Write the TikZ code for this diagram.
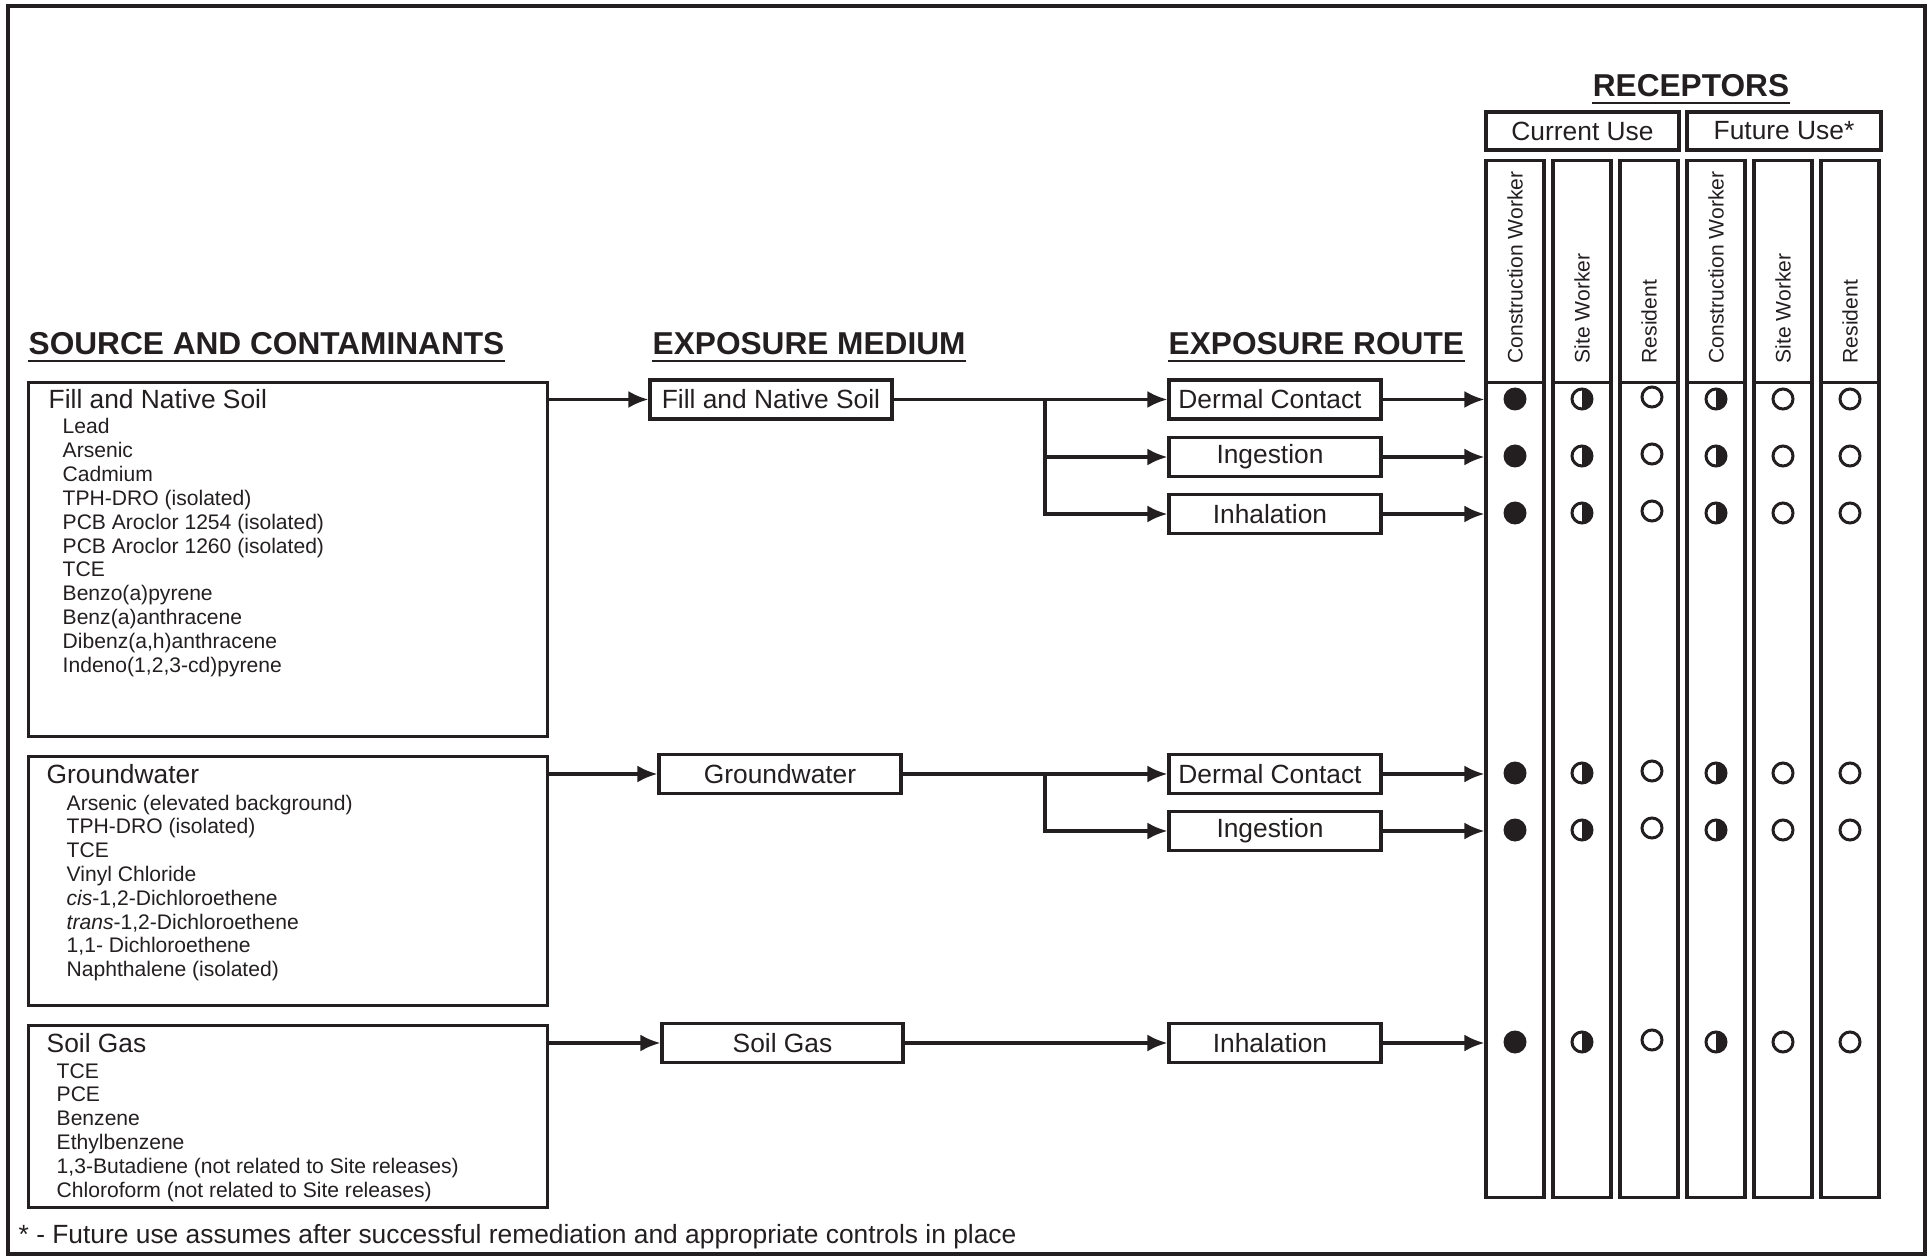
\documentclass[tikz,border=0pt]{standalone}
\usepackage{fontspec}
\setmainfont{Liberation Sans}
\usetikzlibrary{
arrows.meta,
positioning,
calc
}
\definecolor{InkBlack}{HTML}{231F20}

\begin{document}
\begin{tikzpicture}[
    x=1cm,
    y=1cm,
    >=Latex,
    box/.style={draw=InkBlack, line width=0.9pt, inner sep=0pt, minimum height=0.39cm},
    srcbox/.style={draw=InkBlack, line width=0.9pt, inner sep=0pt, anchor=north west},
    colbox/.style={draw=InkBlack, line width=0.9pt, inner sep=0pt, minimum width=0.58cm, anchor=north},
    headtxt/.style={font=\fontsize{9}{11}\selectfont\bfseries, text=InkBlack, inner sep=0pt, anchor=base west},
    titletxt/.style={font=\fontsize{7.5}{9}\selectfont, text=InkBlack, inner sep=0pt, anchor=base west},
    itemtxt/.style={font=\fontsize{6}{7}\selectfont, text=InkBlack, inner sep=0pt, anchor=base west},
    boxtxt/.style={box, font=\fontsize{7.5}{9}\selectfont, text=InkBlack},
    routetxt/.style={boxtxt, minimum width=2.12cm, execute at end node={\hspace{0.1cm}}},
    flow/.style={-{Latex[length=2mm,width=1.7mm]}, draw=InkBlack, line width=0.9pt},
    uline/.style={draw=InkBlack, line width=0.85pt},
    opendot/.style={draw=InkBlack, line width=0.85pt, fill=white}
]

\useasboundingbox (0,0) rectangle (19.27,-12.56);

% =====================================================
% OUTER FRAME
% =====================================================
\draw[InkBlack, line width=1.3pt] (0.08,-0.06) rectangle (19.25,-12.54);

% =====================================================
% HEADINGS
% =====================================================
\node[headtxt] (srchead) at (0.28,-3.55) {SOURCE AND CONTAMINANTS};
\node[headtxt] (medhead) at (6.52,-3.55) {EXPOSURE MEDIUM};
\node[headtxt] (routehead) at (11.68,-3.55) {EXPOSURE ROUTE};
\node[headtxt, anchor=base] (rechead) at (16.91,-0.97) {RECEPTORS};

\foreach \h in {srchead,medhead,routehead,rechead}
    \draw[uline] ([yshift=-0.06cm]\h.base west) -- ([yshift=-0.06cm]\h.base east);

% =====================================================
% SOURCE BOXES
% =====================================================
\node[srcbox, minimum width=5.19cm, minimum height=3.54cm] (srcsoil) at (0.27,-3.81) {};
\node[titletxt] (srcsoiltitle) at (0.48,-4.09) {Fill and Native Soil};
\foreach \lab [count=\i from 0] in {
Lead,
Arsenic,
Cadmium,
TPH-DRO (isolated),
PCB Aroclor 1254 (isolated),
PCB Aroclor 1260 (isolated),
TCE,
Benzo(a)pyrene,
Benz(a)anthracene,
{Dibenz(a,h)anthracene},
{Indeno(1,2,3-cd)pyrene}
}{
    \node[itemtxt] (soilitem\i) at (0.62,{-4.34-0.238*\i}) {\lab};
}

\node[srcbox, minimum width=5.19cm, minimum height=2.49cm] (srcgw) at (0.27,-7.55) {};
\node[titletxt] (srcgwtitle) at (0.46,-7.83) {Groundwater};
\foreach \lab [count=\i from 0] in {
Arsenic (elevated background),
TPH-DRO (isolated),
TCE,
Vinyl Chloride,
{\textit{cis}-1,2-Dichloroethene},
{\textit{trans}-1,2-Dichloroethene},
{1,1- Dichloroethene},
Naphthalene (isolated)
}{
    \node[itemtxt] (gwitem\i) at (0.66,{-8.10-0.238*\i}) {\lab};
}

\node[srcbox, minimum width=5.19cm, minimum height=1.82cm] (srcgas) at (0.27,-10.24) {};
\node[titletxt] (srcgastitle) at (0.46,-10.52) {Soil Gas};
\foreach \lab [count=\i from 0] in {
TCE,
PCE,
Benzene,
Ethylbenzene,
{1,3-Butadiene (not related to Site releases)},
Chloroform (not related to Site releases)
}{
    \node[itemtxt] (gasitem\i) at (0.56,{-10.78-0.238*\i}) {\lab};
}

% =====================================================
% EXPOSURE MEDIUM
% =====================================================
\node[boxtxt, minimum width=2.42cm] (medsoil) at (7.71,-3.995) {Fill and Native Soil};
\node[boxtxt, minimum width=2.42cm] (medgw) at (7.80,-7.74) {Groundwater};
\node[boxtxt, minimum width=2.41cm] (medgas) at (7.825,-10.43) {Soil Gas};

% =====================================================
% EXPOSURE ROUTE
% =====================================================
\node[routetxt] (soilderm) at (12.75,-3.995) {Dermal Contact};
\node[routetxt] (soilingest) at (12.75,-4.57) {Ingestion};
\node[routetxt] (soilinhal) at (12.75,-5.14) {Inhalation};
\node[routetxt] (gwderm) at (12.75,-7.74) {Dermal Contact};
\node[routetxt] (gwingest) at (12.75,-8.31) {Ingestion};
\node[routetxt] (gasinhal) at (12.75,-10.43) {Inhalation};

% =====================================================
% RECEPTORS
% =====================================================
\node[boxtxt, minimum width=1.93cm, minimum height=0.38cm] (curuse) at (15.825,-1.31) {Current Use};
\node[boxtxt, minimum width=1.94cm, minimum height=0.38cm] (futuse) at (17.84,-1.31) {Future Use*};

\foreach \x [count=\i] in {15.15,15.82,16.49,17.16,17.83,18.50}{
    % header cell
    \node[colbox, minimum height=2.22cm] (head\i) at (\x,-1.59) {};
    % body cell
    \node[colbox, minimum height=8.15cm] (col\i) at (\x,-3.81) {};
}

\foreach \lab [count=\i] in {Construction Worker, Site Worker, Resident, Construction Worker, Site Worker, Resident}
    \node[itemtxt, rotate=90, anchor=west] (reclab\i) at ([yshift=0.17cm]col\i.north) {\lab};

% =====================================================
% CONNECTORS
% =====================================================
\draw[flow] (medsoil -| srcsoil.east) -- (medsoil.west);
\draw[flow] (medgw -| srcgw.east) -- (medgw.west);
\draw[flow] (medgas -| srcgas.east) -- (medgas.west);

\coordinate (soilsplit) at (10.45,-3.995);
\coordinate (gwsplit) at (10.45,-7.74);

\draw[flow] (medsoil.east) -- (soilderm.west);
\draw[flow] (soilsplit) |- (soilingest.west);
\draw[flow] (soilsplit) |- (soilinhal.west);

\draw[flow] (medgw.east) -- (gwderm.west);
\draw[flow] (gwsplit) |- (gwingest.west);

\draw[flow] (medgas.east) -- (gasinhal.west);

\foreach \r in {soilderm,soilingest,soilinhal,gwderm,gwingest,gasinhal}
    \draw[flow] (\r.east) -- (\r -| col1.west);

% =====================================================
% EXPOSURE SYMBOLS
% =====================================================
\foreach \y in {-3.99,-4.56,-5.13,-7.73,-8.30,-10.42}{
    % complete pathway
    \fill[InkBlack] (15.15,\y) circle (0.115);

    % potentially complete
    \foreach \x in {15.82,17.16}{
        \draw[opendot] (\x,\y) circle (0.1);
        \fill[InkBlack] (\x,\y) ++(0,0.1) arc[start angle=90, end angle=-90, radius=0.1] -- cycle;
    }

    % incomplete
    \draw[opendot] (16.52,{\y+0.02}) circle (0.1);
    \foreach \x in {17.83,18.50}
        \draw[opendot] (\x,\y) circle (0.1);
}

% =====================================================
% FOOTNOTE
% =====================================================
\node[titletxt] (footnote) at (0.18,-12.43)
{* - Future use assumes after successful remediation and appropriate controls in place};

\end{tikzpicture}
\end{document}
